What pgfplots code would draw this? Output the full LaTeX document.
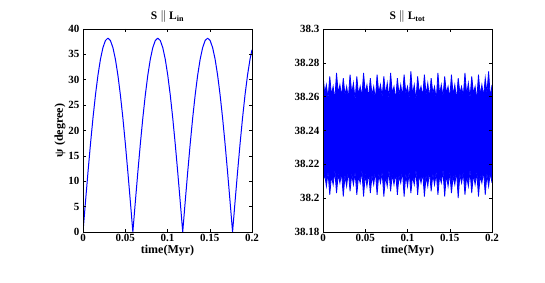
\documentclass[border=0pt]{standalone}
\usepackage{pgfplots}
\pgfplotsset{compat=1.18}
\usepackage{pgfplotstable}
\usepackage{fontspec}
\setmainfont{Liberation Serif}
\pgfplotstableread{
t up lo
0.000 38.273 38.210
0.002 38.262 38.214
0.004 38.267 38.207
0.006 38.259 38.215
0.008 38.272 38.202
0.010 38.261 38.213
0.012 38.266 38.208
0.014 38.258 38.216
0.016 38.274 38.203
0.018 38.262 38.214
0.020 38.267 38.209
0.022 38.260 38.215
0.024 38.271 38.201
0.026 38.261 38.213
0.028 38.266 38.207
0.030 38.259 38.216
0.032 38.273 38.204
0.034 38.262 38.214
0.036 38.268 38.208
0.038 38.258 38.215
0.040 38.272 38.202
0.042 38.261 38.213
0.044 38.266 38.209
0.046 38.260 38.216
0.048 38.274 38.201
0.050 38.262 38.214
0.052 38.267 38.207
0.054 38.259 38.215
0.056 38.271 38.203
0.058 38.261 38.213
0.060 38.266 38.208
0.062 38.258 38.216
0.064 38.273 38.202
0.066 38.262 38.214
0.068 38.267 38.209
0.070 38.260 38.215
0.072 38.272 38.201
0.074 38.261 38.213
0.076 38.268 38.207
0.078 38.259 38.216
0.080 38.274 38.204
0.082 38.262 38.214
0.084 38.266 38.208
0.086 38.258 38.215
0.088 38.271 38.202
0.090 38.261 38.213
0.092 38.267 38.209
0.094 38.260 38.216
0.096 38.273 38.201
0.098 38.262 38.214
0.100 38.266 38.207
0.102 38.259 38.215
0.104 38.275 38.203
0.106 38.261 38.213
0.108 38.267 38.208
0.110 38.258 38.216
0.112 38.272 38.202
0.114 38.262 38.214
0.116 38.266 38.209
0.118 38.260 38.215
0.120 38.273 38.201
0.122 38.261 38.213
0.124 38.268 38.207
0.126 38.259 38.216
0.128 38.271 38.204
0.130 38.262 38.214
0.132 38.266 38.208
0.134 38.258 38.215
0.136 38.274 38.202
0.138 38.261 38.213
0.140 38.267 38.209
0.142 38.260 38.216
0.144 38.272 38.201
0.146 38.262 38.214
0.148 38.266 38.207
0.150 38.259 38.215
0.152 38.273 38.203
0.154 38.261 38.213
0.156 38.267 38.208
0.158 38.258 38.216
0.160 38.271 38.200
0.162 38.262 38.214
0.164 38.266 38.209
0.166 38.260 38.215
0.168 38.274 38.202
0.170 38.261 38.213
0.172 38.268 38.207
0.174 38.259 38.216
0.176 38.272 38.203
0.178 38.262 38.214
0.180 38.266 38.208
0.182 38.258 38.215
0.184 38.273 38.201
0.186 38.261 38.213
0.188 38.267 38.209
0.190 38.260 38.216
0.192 38.271 38.202
0.194 38.262 38.214
0.196 38.275 38.207
0.198 38.259 38.215
0.200 38.267 38.209
}\bandtable
\pgfplotsset{
  matlab/.style={
    scale only axis, width=169pt, height=203pt,
    anchor=south west,
    axis on top,
    axis line style={black, line width=0.5pt},
    tick align=inside, xtick pos=both, ytick pos=both,
    major tick length=3pt,
    tick style={black, line width=0.5pt},
    ticklabel style={font=\bfseries\fontsize{11}{12}\selectfont},
    /pgf/number format/assume math mode=true,
    xmin=0, xmax=0.2,
    xtick={0,0.05,0.1,0.15,0.2},
    xticklabels={0,0.05,0.1,0.15,0.2},
    xticklabel style={yshift=1pt},
    xlabel={time(Myr)},
    xlabel style={font=\bfseries\fontsize{12}{13}\selectfont, yshift=4pt},
    ylabel style={font=\bfseries\fontsize{12}{13}\selectfont},
    title style={font=\bfseries\fontsize{11.5}{13}\selectfont, yshift=-3pt},
  }
}
\begin{document}
\begin{tikzpicture}
\path[use as bounding box] (0pt,0pt) rectangle (545pt,283pt);
\begin{axis}[matlab, at={(83pt,51pt)},
  ymin=0, ymax=40, ytick={0,5,...,40},
  yticklabels={0,5,10,15,20,25,30,35,40},
  ylabel={ψ (degree)}, ylabel style={yshift=-4pt},
  title={S $\Vert$ L\textsubscript{in}}]
\addplot[blue, line width=1pt, line join=round] coordinates {
(0,0) (0.00295,5.98) (0.0059,11.80) (0.00885,17.34) (0.0118,22.46) (0.01475,27.01) (0.0177,30.90) (0.02065,34.04) (0.0236,36.33) (0.02655,37.73) (0.0295,38.2) (0.03245,37.73) (0.0354,36.33) (0.03835,34.04) (0.0413,30.90) (0.04425,27.01) (0.0472,22.46) (0.05015,17.34) (0.0531,11.80) (0.05605,5.98) (0.059,0)
(0.06195,5.98) (0.0649,11.80) (0.06785,17.34) (0.0708,22.46) (0.07375,27.01) (0.0767,30.90) (0.07965,34.04) (0.0826,36.33) (0.08555,37.73) (0.0885,38.2) (0.09145,37.73) (0.0944,36.33) (0.09735,34.04) (0.1003,30.90) (0.10325,27.01) (0.1062,22.46) (0.10915,17.34) (0.1121,11.80) (0.11505,5.98) (0.118,0)
(0.12095,5.98) (0.1239,11.80) (0.12685,17.34) (0.1298,22.46) (0.13275,27.01) (0.1357,30.90) (0.13865,34.04) (0.1416,36.33) (0.14455,37.73) (0.1475,38.2) (0.15045,37.73) (0.1534,36.33) (0.15635,34.04) (0.1593,30.90) (0.16225,27.01) (0.1652,22.46) (0.16815,17.34) (0.1711,11.80) (0.17405,5.98) (0.177,0)
(0.17995,5.98) (0.1829,11.80) (0.18585,17.34) (0.1888,22.46) (0.19175,27.01) (0.1947,30.90) (0.19765,34.04) (0.2,35.9)
};
\end{axis}
\begin{axis}[matlab, at={(323pt,51pt)},
  ymin=38.18, ymax=38.3, ytick={38.18,38.2,38.22,38.24,38.26,38.28,38.3},
  yticklabels={38.18,38.2,38.22,38.24,38.26,38.28,38.3},
  title={S $\Vert$ L\textsubscript{tot}}]
\addplot[draw=none, fill=blue] table[x=t, y=up] {\bandtable} \closedcycle;
\addplot[draw=none, fill=white] table[x=t, y=lo] {\bandtable} \closedcycle;
\addplot[blue, line width=0.8pt] table[x=t, y=up] {\bandtable};
\addplot[blue, line width=0.8pt] table[x=t, y=lo] {\bandtable};
\end{axis}
\end{tikzpicture}
\end{document}
